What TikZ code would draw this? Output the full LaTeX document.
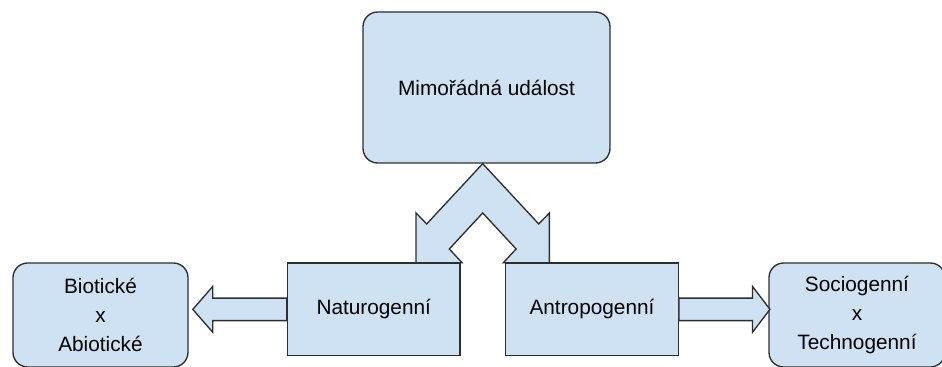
\documentclass[tikz,border=0pt]{standalone}
\usepackage{fontspec}
\setmainfont{Liberation Sans}
\definecolor{boxfill}{HTML}{CFE2F3}
\definecolor{boxline}{HTML}{2E2E2E}

\begin{document}
\begin{tikzpicture}[x=0.75pt,y=-0.75pt,
    every node/.style={font=\fontsize{15.6}{22}\selectfont},
    box/.style={draw=boxline,fill=boxfill,line width=1pt,align=center,inner sep=0pt},
    roundbox/.style={box,rounded corners=11pt},
    blockarrow/.style={draw=boxline,fill=boxfill,line width=1pt,line join=miter}]
            \useasboundingbox (0,0) rectangle (942,367);
            \clip (0,0) rectangle (942,367);
            \node[roundbox,minimum width=185.25pt,minimum height=113.25pt] (top) at (486.5,87.5) {Mimořádná událost};
            % the two arrows out of the top box
            \draw[blockarrow] ([xshift=-2.85pt]top.south) -- ++(-56,60.3) -- ++(-10.7,-11) -- ++(0,49.7) -- ++(46,0) -- ++(-12.7,-13.7) -- ++(33.4,-36) -- ++(33.4,36) -- ++(-12.7,13.7) -- ++(46,0) -- ++(0,-49.7) -- ++(-10.7,11) -- cycle;
            \node[box,minimum width=129.4pt,minimum height=69.5pt] (nat) at (373.75,309.35) {Naturogenní};
            \node[box,minimum width=129.4pt,minimum height=69.5pt] (ant) at (592,309.35) {Antropogenní};
            \node[roundbox,minimum width=131.25pt,minimum height=78pt] (bio) at (100.5,315) {Biotické\\x\\Abiotické};
            \node[roundbox,minimum width=132pt,minimum height=78pt] (soc) at (857,315) {Sociogenní\\x\\Technogenní};
            \draw[blockarrow] (nat.west) ++(0,-11.25) -- ++(-74,0) -- ++(0,-11.75) -- ++(-20,23) -- ++(20,23) -- ++(0,-11.75) -- ++(74,0) -- cycle;
            \draw[blockarrow] (ant.east) ++(0,-11.25) -- ++(73.5,0) -- ++(0,-11.75) -- ++(17.5,23) -- ++(-17.5,23) -- ++(0,-11.75) -- ++(-73.5,0) -- cycle;
        \end{tikzpicture}
\end{document}
